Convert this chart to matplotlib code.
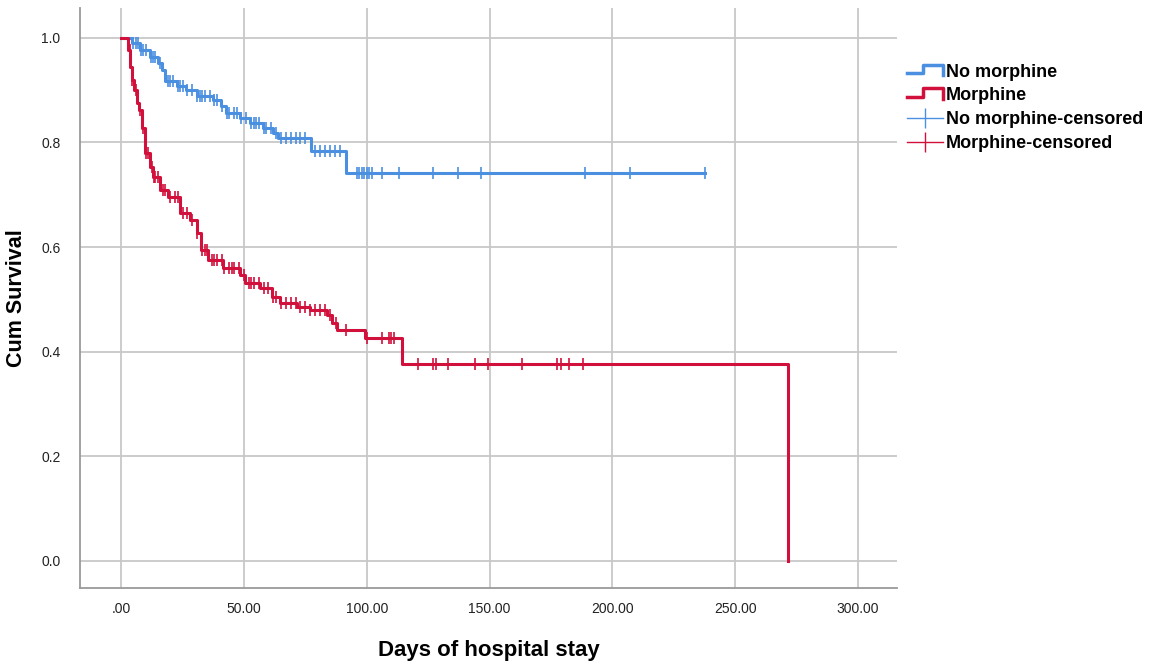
import numpy as np
import matplotlib
matplotlib.use("Agg")
import matplotlib.pyplot as plt
from matplotlib.lines import Line2D
from matplotlib.legend_handler import HandlerBase

plt.rcParams['font.family'] = ['Liberation Sans', 'DejaVu Sans']

# ---- data ----
nomorph_times = [0, 4.3, 7.7, 11.8, 15.0, 16.5, 17.8, 22.6, 26.6, 30.7, 37.4, 40.8, 42.9,
                 48.3, 52.3, 57.6, 61.7, 63.7, 77.4, 91.6]
nomorph_surv = [1.0, 0.990, 0.977, 0.964, 0.952, 0.939, 0.917, 0.907, 0.900, 0.888, 0.881,
                0.869, 0.856, 0.847, 0.837, 0.828, 0.818, 0.809, 0.783, 0.742]
nomorph_censor = [5, 6, 7, 8, 9, 10, 12, 13, 14, 16, 19, 20, 21, 23, 24, 25, 27, 29, 31, 32,
                  33, 34, 36, 38, 39, 41, 43, 44, 46, 47, 49, 51, 53, 54, 55, 56, 58, 59, 61,
                  63, 65, 67, 69, 71, 73, 75, 79, 81, 83, 85, 87, 89, 96, 97, 98, 99, 100,
                  101, 102, 106, 113, 127, 137, 146.5, 189, 207, 237.5]

morph_times = [0, 2.9, 3.6, 4.3, 5.3, 6.4, 7.2, 8.4, 9.7, 11.8, 13.0, 15.8, 19.0, 24.0, 28.0,
               30.8, 32.7, 35.3, 41.4, 48.3, 50.3, 56.4, 61.3, 64.5, 71.4, 76.7, 84.0, 86.0,
               88.0, 99.3, 114.5, 271.5]
morph_surv = [1.0, 0.977, 0.945, 0.920, 0.900, 0.876, 0.862, 0.828, 0.780, 0.753, 0.734, 0.709,
              0.696, 0.665, 0.652, 0.627, 0.595, 0.575, 0.560, 0.547, 0.531, 0.522, 0.505,
              0.493, 0.486, 0.480, 0.470, 0.455, 0.442, 0.426, 0.376, 0.0]
morph_censor = [3.5, 4.5, 6, 7.5, 9, 10, 11, 12.5, 13.5, 14, 15, 17, 18, 20, 22, 23, 25, 27,
                29, 31, 33, 34, 35, 37, 38, 39, 41, 42, 44, 45, 46, 48, 50, 52, 53, 54, 56,
                58, 60, 62, 63, 65, 67, 69, 71, 73, 75, 77, 79, 81, 83, 85, 87.5, 91.5, 100,
                106, 109, 110, 111, 121, 127, 128, 133, 144, 149.4, 163, 177.4, 179.2, 182.4,
                188.2]

x_ticks = [0, 50, 100, 150, 200, 250, 300]
x_tick_labels = ['.00', '50.00', '100.00', '150.00', '200.00', '250.00', '300.00']
y_ticks = [0.0, 0.2, 0.4, 0.6, 0.8, 1.0]
y_tick_labels = ['0.0', '0.2', '0.4', '0.6', '0.8', '1.0']
series_labels = ['No morphine', 'Morphine', 'No morphine-censored', 'Morphine-censored']

BLUE = '#4a8fe0'
RED = '#d2103c'


def surv_at(times, surv, t):
    idx = np.searchsorted(np.asarray(times), np.asarray(t), side='right') - 1
    return np.asarray(surv)[idx]


fig = plt.figure(figsize=(11.67, 6.63), dpi=100)
ax = fig.add_axes([0.0686, 0.113, 0.700, 0.875])

ax.set_xlim(-16.7, 315.8)
ax.set_ylim(-0.052, 1.057)

ax.grid(True, color='#c8c8c8', linewidth=1.3)
ax.set_axisbelow(True)

ax.step(nomorph_times + [max(nomorph_censor)], nomorph_surv + [nomorph_surv[-1]],
        where='post', color=BLUE, linewidth=2.2, zorder=3)
ax.step(morph_times, morph_surv, where='post', color=RED, linewidth=2.2, zorder=4)

ax.plot(nomorph_censor, surv_at(nomorph_times, nomorph_surv, nomorph_censor),
        linestyle='none', marker='|', markersize=8, markeredgewidth=1.2, color=BLUE, zorder=3)
ax.plot(morph_censor, surv_at(morph_times, morph_surv, morph_censor),
        linestyle='none', marker='|', markersize=8, markeredgewidth=1.2, color=RED, zorder=4)

ax.set_xticks(x_ticks)
ax.set_xticklabels(x_tick_labels)
ax.set_yticks(y_ticks)
ax.set_yticklabels(y_tick_labels)
ax.tick_params(length=0, labelsize=10, colors='#222222')
ax.tick_params(axis='x', pad=10)
ax.tick_params(axis='y', pad=14)

for s in ['top', 'right']:
    ax.spines[s].set_visible(False)
for s in ['left', 'bottom']:
    ax.spines[s].set_color('#9a9a9a')
    ax.spines[s].set_linewidth(1.3)

ax.set_xlabel('Days of hospital stay', fontsize=16, fontweight='bold', labelpad=17)
ax.set_ylabel('Cum Survival', fontsize=15.5, fontweight='bold', labelpad=10)


class StepHandler(HandlerBase):
    def create_artists(self, legend, orig_handle, xdescent, ydescent, width, height,
                       fontsize, trans):
        w, h = width, height
        xs = [-xdescent, -xdescent + 0.45 * w, -xdescent + 0.45 * w, -xdescent + w, -xdescent + w]
        ys = [0.3 * h, 0.3 * h, 0.95 * h, 0.95 * h, 0.1 * h]
        ln = Line2D(xs, ys, color=orig_handle.get_color(), linewidth=2.5)
        ln.set_transform(trans)
        return [ln]


h1 = Line2D([], [], color=BLUE)
h2 = Line2D([], [], color=RED)
h3 = Line2D([], [], color=BLUE, linewidth=1.0, marker='|', markersize=15, markeredgewidth=1.0)
h4 = Line2D([], [], color=RED, linewidth=1.0, marker='|', markersize=15, markeredgewidth=1.0)

leg = fig.legend([h1, h2, h3, h4], series_labels,
                 handler_map={h1: StepHandler(), h2: StepHandler()},
                 loc='upper left', bbox_to_anchor=(0.771, 0.915), frameon=False,
                 prop={'size': 13, 'weight': 'bold'}, handlelength=2.0,
                 handletextpad=0.15, labelspacing=0.38, borderaxespad=0)

fig.savefig('out.png', dpi=100)
